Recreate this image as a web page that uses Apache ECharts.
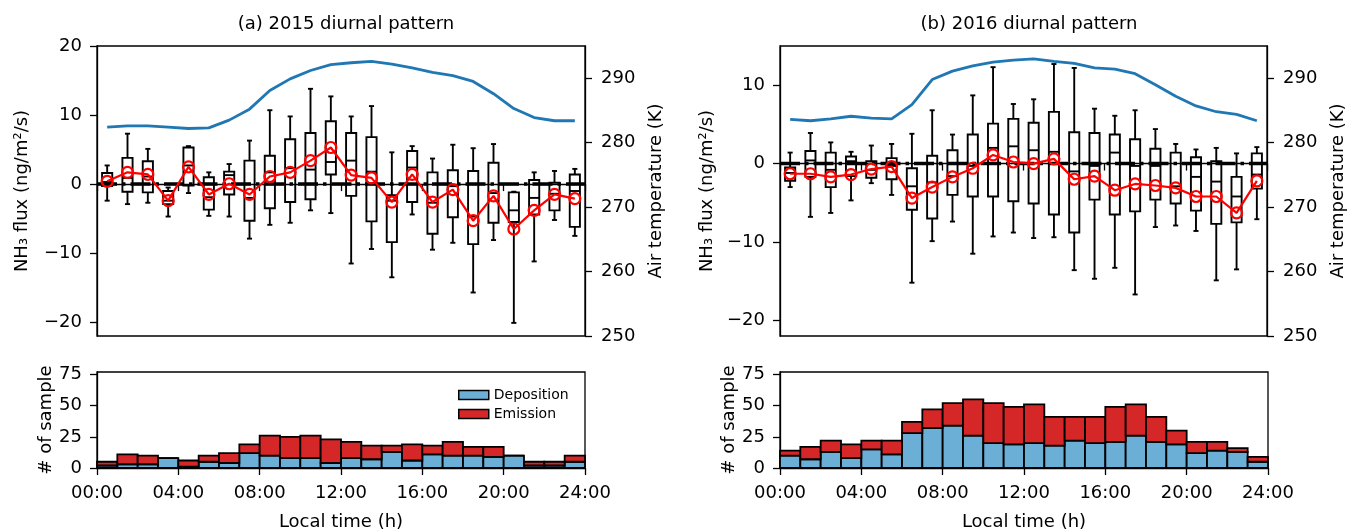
<!DOCTYPE html>
<html><head><meta charset="utf-8">
<script src="https://cdn.jsdelivr.net/npm/echarts@6/dist/echarts.min.js"></script>
<style>html,body{margin:0;padding:0;background:#fff}#c{width:1348px;height:532px}</style>
</head><body><div id="c"></div>
<script>
// ---------------- data ----------------
const hourCenters = [0.5,1.5,2.5,3.5,4.5,5.5,6.5,7.5,8.5,9.5,10.5,11.5,12.5,13.5,14.5,15.5,16.5,17.5,18.5,19.5,20.5,21.5,22.5,23.5];
const hourStarts = [0,1,2,3,4,5,6,7,8,9,10,11,12,13,14,15,16,17,18,19,20,21,22,23];
const fluxTicks = [-20,-10,0,10,20];
const fluxTicksB = [-20,-10,0,10];
const tempTicks = [250,260,270,280,290];
const countTicks = [0,25,50,75];
const timeTicks = [0,4,8,12,16,20,24];

// 2015 NH3 flux box statistics (ng/m2/s)
const lo2015   = [-2.4,-2.9,-2.7,-4.7,-1.3,-4.6,-4.7,-7.9,-5.9,-5.6,-3.8,-4.2,-11.5,-9.4,-13.5,-4.4,-9.5,-8.5,-15.7,-8.1,-20.1,-11.2,-5.2,-7.5];
const q1_2015  = [-0.3,-1.1,-1.2,-2.9,-0.2,-3.7,-1.5,-5.3,-3.5,-2.6,-2.2,1.4,-1.7,-5.4,-8.4,-2.6,-7.2,-4.8,-8.7,-5.6,-5.5,-4.4,-3.8,-6.2];
const med2015  = [0.3,0.9,1.1,-2.4,2.7,-1.9,1.3,-2.0,1.7,2.3,2.1,3.2,3.4,1.8,-2.4,2.4,-2.7,-0.3,-4.7,-1.3,-3.8,-2.0,-1.4,-1.0];
const q3_2015  = [1.6,3.8,3.3,-1.0,5.3,1.0,1.8,3.4,4.1,6.5,7.4,9.1,7.4,6.8,-1.6,4.8,1.7,2.0,1.9,3.1,-1.2,0.6,0.2,1.4];
const hi2015   = [2.7,7.3,5.1,-0.5,5.5,1.7,2.9,6.3,10.7,9.8,13.8,12.7,9.8,11.3,4.6,5.5,3.7,5.7,5.2,5.8,-1.1,1.7,1.9,2.2];
const mean2015 = [0.4,1.7,1.4,-2.4,2.5,-1.5,0.05,-1.5,1.1,1.7,3.4,5.3,1.3,0.9,-2.6,1.4,-2.6,-0.8,-5.3,-1.7,-6.5,-3.8,-1.5,-2.1];
const temp2015 = [282.4,282.6,282.6,282.4,282.2,282.3,283.5,285.2,288.1,289.9,291.2,292.1,292.4,292.6,292.2,291.6,290.9,290.4,289.5,287.6,285.3,283.9,283.4,283.4];
const dep2015  = [2,3,3,8,1,5,4,12,10,8,8,4,8,7,13,6,11,10,10,9,10,2,2,5];
const emi2015  = [3,8,7,0,5,5,8,7,16,17,18,19,13,11,5,13,7,11,7,8,0,3,3,5];

// 2016 NH3 flux box statistics (ng/m2/s)
const lo2016   = [-3.0,-6.8,-6.3,-4.7,-2.5,-4.0,-15.2,-9.9,-7.4,-11.5,-9.3,-8.8,-9.5,-9.4,-13.6,-14.7,-13.3,-16.7,-8.1,-7.9,-8.6,-14.9,-13.5,-7.1];
const q1_2016  = [-2.2,-1.7,-3.0,-1.6,-1.8,-2.0,-5.9,-7.0,-4.0,-4.2,-4.2,-4.8,-5.1,-6.5,-8.8,-4.6,-6.5,-6.1,-4.6,-5.1,-6.0,-7.7,-7.5,-3.2];
const med2016  = [-1.2,0.4,-0.8,0.3,-0.8,-0.3,-2.9,-2.4,-1.6,-0.3,2.0,2.2,1.7,1.5,-1.0,-0.3,1.4,-0.3,-0.3,-2.9,-1.7,-2.3,-4.2,-1.4];
const q3_2016  = [-0.5,1.6,1.4,0.9,0.3,0.7,-0.6,1.0,1.7,3.7,5.1,5.7,5.2,6.6,4.0,3.9,3.7,3.1,1.9,1.4,0.8,0.3,-1.7,1.3];
const hi2016   = [1.4,3.9,2.7,1.5,2.3,2.5,3.8,6.8,3.7,8.7,12.3,7.6,8.2,12.7,12.2,7.0,6.1,6.8,4.4,2.5,1.8,2.0,1.3,2.1];
const mean2016 = [-1.3,-1.3,-1.7,-1.4,-0.7,-0.4,-4.4,-3.0,-1.7,-0.6,1.1,0.2,0.0,0.6,-2.0,-1.6,-3.4,-2.6,-2.8,-3.1,-4.2,-4.2,-6.3,-2.2];
const temp2016 = [283.6,283.4,283.7,284.1,283.8,283.7,285.9,289.8,291.1,291.9,292.5,292.8,293.0,292.6,292.3,291.6,291.4,290.7,289.0,287.2,285.7,284.8,284.4,283.4];
const dep2016  = [10,7,13,8,15,11,28,32,34,26,20,19,20,18,22,20,21,26,21,19,12,14,13,5];
const emi2016  = [4,10,9,11,7,11,9,15,18,29,32,30,31,23,19,21,28,25,20,11,9,7,3,4];

const titles = ['(a) 2015 diurnal pattern','(b) 2016 diurnal pattern'];

// ---------------- chart ----------------
const FONT = 'DejaVu Sans';
const BLUE = '#6baed6', RED = '#d62728';
const minus = v => String(v).replace('-', '\u2212');
const hhmm = v => (v < 10 ? '0' : '') + v + ':00';

const panels = [
  {left:97, lo:lo2015,q1:q1_2015,med:med2015,q3:q3_2015,hi:hi2015,mean:mean2015,temp:temp2015,dep:dep2015,emi:emi2015,ymin:-22,ymax:20,yt:fluxTicks},
  {left:780,lo:lo2016,q1:q1_2016,med:med2016,q3:q3_2016,hi:hi2016,mean:mean2016,temp:temp2016,dep:dep2016,emi:emi2016,ymin:-22,ymax:15,yt:fluxTicksB}
];
const W = 488, TOP1 = 46, H1 = 290, TOP2 = 372, H2 = 96.5;

const grid = [], xAxis = [], yAxis = [], series = [], title = [];
const axLine = {show:true, lineStyle:{color:'#000', width:1.3}};
const tick = (cv) => Object.assign({show:true, length:7, inside:false, lineStyle:{color:'#000', width:1.3}}, cv ? {customValues:cv} : {});
const lbl = (extra) => Object.assign({color:'#000', fontFamily:FONT, fontSize:18}, extra);

function boxRender(params, api) {
  const x = api.value(0);
  const lo = api.value(1), q1 = api.value(2), md = api.value(3), q3 = api.value(4), hi = api.value(5);
  const hw = api.size([0.25, 0])[0], cw = api.size([0.125, 0])[0];
  const c = api.coord([x, 0])[0];
  const y = v => api.coord([x, v])[1];
  const st = {stroke:'#000', lineWidth:1.9, fill:null};
  return {type:'group', children:[
    {type:'rect', shape:{x:c-hw, y:y(q3), width:2*hw, height:y(q1)-y(q3)}, style:st},
    {type:'line', shape:{x1:c-hw, y1:y(md), x2:c+hw, y2:y(md)}, style:st},
    {type:'line', shape:{x1:c, y1:y(q3), x2:c, y2:y(hi)}, style:st},
    {type:'line', shape:{x1:c, y1:y(q1), x2:c, y2:y(lo)}, style:st},
    {type:'line', shape:{x1:c-cw, y1:y(hi), x2:c+cw, y2:y(hi)}, style:st},
    {type:'line', shape:{x1:c-cw, y1:y(lo), x2:c+cw, y2:y(lo)}, style:st}
  ]};
}
function barRender(color) {
  return function(params, api) {
    const p0 = api.coord([api.value(0), api.value(2)]);
    const p1 = api.coord([api.value(1), api.value(3)]);
    return {type:'rect', shape:{x:p0[0], y:p1[1], width:p1[0]-p0[0], height:p0[1]-p1[1]},
      style:{fill:color, stroke:'#000', lineWidth:1.8}};
  };
}

panels.forEach((p, k) => {
  const g0 = k*2, g1 = k*2+1;
  grid.push({left:p.left, top:TOP1, width:W, height:H1, show:true, borderColor:'#000', borderWidth:1.3, backgroundColor:'transparent'});
  grid.push({left:p.left, top:TOP2, width:W, height:H2, show:true, borderColor:'#000', borderWidth:1.3, backgroundColor:'transparent'});
  title.push({text:titles[k], left:p.left + W/2, top:10, textAlign:'center',
    textStyle:{fontFamily:FONT, fontSize:18, fontWeight:'normal', color:'#000'}});
  // x axes
  xAxis.push({gridIndex:g0, type:'value', min:0, max:24, interval:4, axisLine:axLine, axisTick:tick(),
    axisLabel:{show:false}, splitLine:{show:false}});
  xAxis.push({gridIndex:g1, type:'value', min:0, max:24, interval:4, axisLine:axLine, axisTick:tick(),
    axisLabel:lbl({formatter:hhmm, margin:16}), splitLine:{show:false},
    name:'Local time (h)', nameLocation:'middle', nameGap:45,
    nameTextStyle:{fontFamily:FONT, fontSize:18, color:'#000'}});
  // y axes: flux (left), temperature (right), counts
  const yi = yAxis.length;
  yAxis.push({gridIndex:g0, type:'value', min:p.ymin, max:p.ymax, position:'left', axisLine:axLine,
    axisTick:tick(p.yt), axisLabel:lbl({customValues:p.yt, formatter:minus, margin:15}), splitLine:{show:false},
    name:'NH\u2083 flux (ng/m\u00b2/s)', nameLocation:'middle', nameRotate:90, nameGap:k===0?66:64,
    nameTextStyle:{fontFamily:FONT, fontSize:18, color:'#000'}});
  yAxis.push({gridIndex:g0, type:'value', min:250, max:295, position:'right', axisLine:axLine,
    axisTick:tick(tempTicks), axisLabel:lbl({customValues:tempTicks, margin:16}), splitLine:{show:false},
    name:'Air temperature (K)', nameLocation:'middle', nameRotate:90, nameGap:62,
    nameTextStyle:{fontFamily:FONT, fontSize:18, color:'#000'}});
  yAxis.push({gridIndex:g1, type:'value', min:0, max:77, position:'left', axisLine:axLine,
    axisTick:tick(countTicks), axisLabel:lbl({customValues:countTicks, margin:15}), splitLine:{show:false},
    name:'# of sample', nameLocation:'middle', nameRotate:90, nameGap:38,
    nameTextStyle:{fontFamily:FONT, fontSize:18, color:'#000'}});
  const xa0 = k*2, xa1 = k*2+1;
  // zero line
  series.push({type:'line', xAxisIndex:xa0, yAxisIndex:yi, data:[[0,0],[24,0]], symbol:'none', silent:true, z:1,
    lineStyle:{color:'#000', width:3.5, type:[20,5,3.5,5]}});
  // boxes
  series.push({type:'custom', xAxisIndex:xa0, yAxisIndex:yi, renderItem:boxRender, z:2, silent:true,
    encode:{x:0, y:[1,2,3,4,5]},
    data:hourCenters.map((h,i)=>[h, p.lo[i], p.q1[i], p.med[i], p.q3[i], p.hi[i]])});
  // mean line
  series.push({type:'line', xAxisIndex:xa0, yAxisIndex:yi, z:4, symbol:'circle', symbolSize:11,
    data:hourCenters.map((h,i)=>[h, p.mean[i]]),
    lineStyle:{color:'#ff0000', width:2.2},
    itemStyle:{color:'rgba(255,255,255,0)', borderColor:'#ff0000', borderWidth:2.2}});
  // temperature line
  series.push({type:'line', xAxisIndex:xa0, yAxisIndex:yi+1, z:3, symbol:'none',
    data:hourCenters.map((h,i)=>[h, p.temp[i]]),
    lineStyle:{color:'#1f77b4', width:2.8}});
  // histogram
  series.push({name:'Deposition', type:'custom', xAxisIndex:xa1, yAxisIndex:yi+2, renderItem:barRender(BLUE),
    itemStyle:{color:BLUE}, encode:{x:[0,1], y:[2,3]},
    data:hourStarts.map((h,i)=>[h, h+1, 0, p.dep[i]])});
  series.push({name:'Emission', type:'custom', xAxisIndex:xa1, yAxisIndex:yi+2, renderItem:barRender(RED),
    itemStyle:{color:RED}, encode:{x:[0,1], y:[2,3]},
    data:hourStarts.map((h,i)=>[h, h+1, p.dep[i], p.dep[i]+p.emi[i]])});
});

const chart = echarts.init(document.getElementById('c'), null, {renderer:'canvas'});
chart.setOption({
  animation:false,
  backgroundColor:'#fff',
  title:title,
  grid:grid, xAxis:xAxis, yAxis:yAxis, series:series,
  legend:{orient:'vertical', left:453, top:383, itemWidth:30, itemHeight:9, itemGap:5, selectedMode:false,
    icon:'rect', textStyle:{fontFamily:FONT, fontSize:14, color:'#000'},
    data:[{name:'Deposition', itemStyle:{color:BLUE, borderColor:'#000', borderWidth:1.5}},
          {name:'Emission', itemStyle:{color:RED, borderColor:'#000', borderWidth:1.5}}]}
});
</script></body></html>
